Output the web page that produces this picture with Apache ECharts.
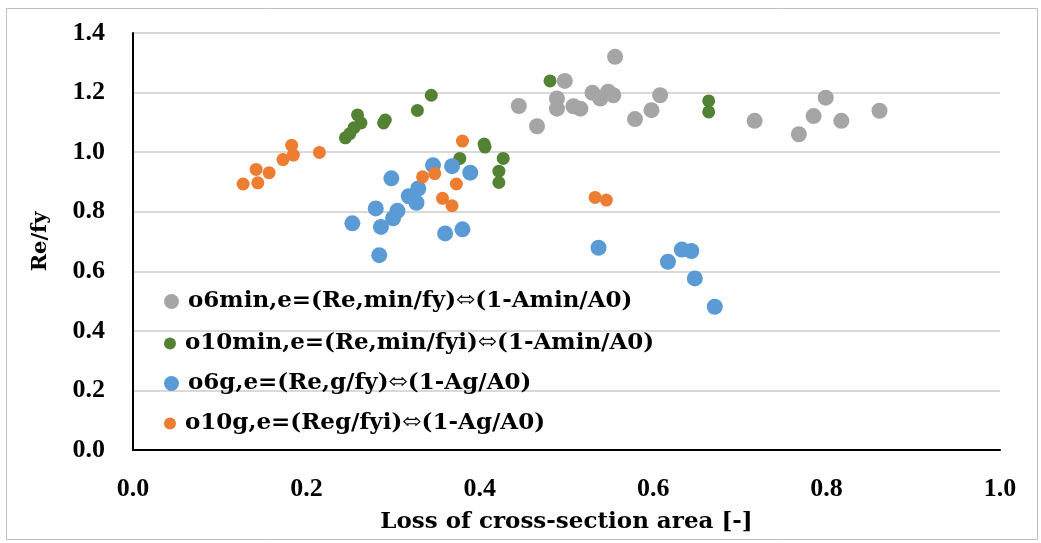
<!DOCTYPE html>
<html>
<head>
<meta charset="utf-8">
<script src="https://cdn.jsdelivr.net/npm/echarts@6/dist/echarts.min.js"></script>
<style>
  html, body { margin: 0; padding: 0; background: #fff; }
  #chart { width: 1041px; height: 543px; }
</style>
</head>
<body>
<div id="chart"></div>
<script>
// Loss of cross-section area vs. relative strength Re/fy

const xTicks = [0.0, 0.2, 0.4, 0.6, 0.8, 1.0];
const yTicks = [0.0, 0.2, 0.4, 0.6, 0.8, 1.0, 1.2, 1.4];

const seriesNames = [
  'o6min,e=(Re,min/fy)\u2B04(1-Amin/A0)',
  'o10min,e=(Re,min/fyi)\u2B04(1-Amin/A0)',
  'o6g,e=(Re,g/fy)\u2B04(1-Ag/A0)',
  'o10g,e=(Reg/fyi)\u2B04(1-Ag/A0)'
];

const o6min = [
  [0.445, 1.155], [0.466, 1.087], [0.489, 1.180], [0.489, 1.146], [0.498, 1.239],
  [0.508, 1.154], [0.516, 1.146], [0.530, 1.199], [0.539, 1.180], [0.548, 1.203],
  [0.554, 1.191], [0.556, 1.320], [0.579, 1.111], [0.598, 1.141], [0.608, 1.191],
  [0.717, 1.105], [0.768, 1.060], [0.785, 1.121], [0.799, 1.183], [0.817, 1.105],
  [0.861, 1.139]
];

const o10min = [
  [0.245, 1.048], [0.250, 1.062], [0.255, 1.082], [0.259, 1.125], [0.263, 1.098],
  [0.289, 1.098], [0.291, 1.108], [0.328, 1.140], [0.344, 1.191], [0.377, 0.979],
  [0.405, 1.027], [0.406, 1.017], [0.422, 0.898], [0.422, 0.936], [0.427, 0.979],
  [0.481, 1.239], [0.664, 1.172], [0.664, 1.135]
];

const o6g = [
  [0.253, 0.761], [0.280, 0.811], [0.284, 0.654], [0.286, 0.749], [0.298, 0.912],
  [0.300, 0.778], [0.305, 0.803], [0.318, 0.852], [0.327, 0.830], [0.329, 0.878],
  [0.346, 0.956], [0.360, 0.727], [0.368, 0.953], [0.380, 0.741], [0.389, 0.931],
  [0.537, 0.679], [0.617, 0.632], [0.633, 0.673], [0.644, 0.668], [0.648, 0.576],
  [0.671, 0.481]
];

const o10g = [
  [0.127, 0.893], [0.142, 0.942], [0.144, 0.897], [0.157, 0.931], [0.173, 0.975],
  [0.183, 1.023], [0.185, 0.990], [0.215, 0.999], [0.334, 0.917], [0.348, 0.928],
  [0.357, 0.845], [0.368, 0.820], [0.373, 0.893], [0.380, 1.037], [0.533, 0.848],
  [0.546, 0.839]
];

const colors = ['#A5A5A5', '#548235', '#5B9BD5', '#ED7D31'];
const markerSizes = [16, 13, 16, 13];
const seriesData = [o6min, o10min, o6g, o10g];

const TICK_FONT = '"Liberation Serif", serif';
const TEXT_FONT = '"DejaVu Serif", serif';

const chart = echarts.init(document.getElementById('chart'), null, { renderer: 'canvas' });

const legendTops = [290, 332, 372, 412];
const legendIcon = [15, 12, 15, 12];

chart.setOption({
  backgroundColor: '#ffffff',
  animation: false,
  graphic: [{
    type: 'rect',
    shape: { x: 6.5, y: 8.5, width: 1031, height: 531 },
    style: { fill: 'none', stroke: '#BFBFBF', lineWidth: 1 },
    silent: true,
    z: -1
  }],
  grid: { left: 133, right: 41, top: 33, bottom: 93, containLabel: false },
  xAxis: {
    type: 'value',
    min: xTicks[0],
    max: xTicks[xTicks.length - 1],
    interval: 0.2,
    name: 'Loss of cross-section area [-]',
    nameLocation: 'middle',
    nameGap: 61,
    nameTextStyle: { fontFamily: TEXT_FONT, fontWeight: 'bold', fontSize: 23, color: '#000' },
    axisLine: { show: true, onZero: false, lineStyle: { color: '#000', width: 2 } },
    axisTick: { show: false },
    splitLine: { show: false },
    axisLabel: {
      margin: 26,
      fontFamily: TICK_FONT, fontWeight: 'bold', fontSize: 26, color: '#000',
      formatter: v => v.toFixed(1)
    }
  },
  yAxis: {
    type: 'value',
    min: yTicks[0],
    max: yTicks[yTicks.length - 1],
    interval: 0.2,
    name: 'Re/fy',
    nameLocation: 'middle',
    nameRotate: 90,
    nameGap: 82,
    nameTextStyle: { fontFamily: TEXT_FONT, fontWeight: 'bold', fontSize: 21, color: '#000' },
    axisLine: { show: true, lineStyle: { color: '#000', width: 2 } },
    axisTick: { show: false },
    splitLine: { show: true, lineStyle: { color: '#D9D9D9', width: 2 } },
    axisLabel: {
      margin: 28,
      fontFamily: TICK_FONT, fontWeight: 'bold', fontSize: 26, color: '#000',
      formatter: v => v.toFixed(1)
    }
  },
  legend: seriesNames.map((name, i) => ({
    data: [name],
    left: 164,
    top: legendTops[i],
    icon: 'circle',
    itemWidth: legendIcon[i],
    itemHeight: legendIcon[i],
    itemGap: 0,
    padding: 0,
    selectedMode: false,
    textStyle: { fontFamily: TEXT_FONT, fontWeight: 'bold', fontSize: 23, color: '#000', padding: [0, 0, 0, 4] }
  })),
  series: seriesNames.map((name, i) => ({
    name: name,
    type: 'scatter',
    data: seriesData[i],
    symbol: 'circle',
    symbolSize: markerSizes[i],
    itemStyle: { color: colors[i], opacity: 1 },
    emphasis: { disabled: true }
  }))
});
</script>
</body>
</html>
